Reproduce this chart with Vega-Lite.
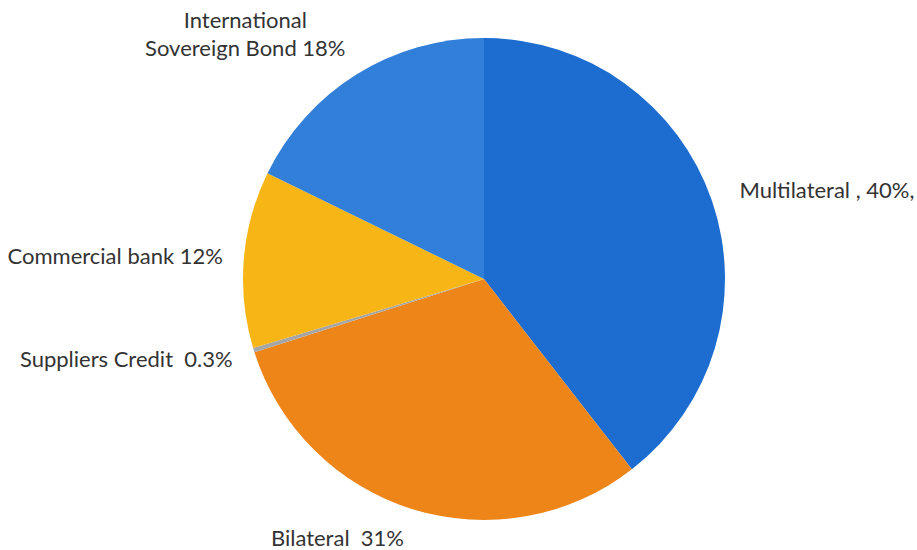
{
  "$schema": "https://vega.github.io/schema/vega-lite/v6.json",
  "autosize": {"type": "none"},
  "width": 866,
  "height": 542,
  "padding": {"left": 51, "top": 8, "right": 0, "bottom": 0},
  "background": "white",
  "view": {"stroke": null},
  "data": {
    "values": [
      {"idx": 1, "cat": "Multilateral", "value": 40, "label": "Multilateral , 40%,"},
      {"idx": 2, "cat": "Bilateral", "value": 31, "label": "Bilateral \u00a031%"},
      {"idx": 3, "cat": "Suppliers Credit", "value": 0.3, "label": "Suppliers Credit \u00a00.3%"},
      {"idx": 4, "cat": "Commercial bank", "value": 12, "label": "Commercial bank 12%"},
      {"idx": 5, "cat": "International Sovereign Bond", "value": 18, "label": "International\nSovereign Bond 18%"}
    ]
  },
  "encoding": {
    "theta": {"field": "value", "type": "quantitative", "stack": true},
    "order": {"field": "idx", "type": "quantitative"}
  },
  "layer": [
    {
      "mark": {"type": "arc", "outerRadius": 241, "stroke": null},
      "encoding": {
        "color": {
          "field": "cat",
          "type": "nominal",
          "legend": null,
          "scale": {
            "domain": ["Multilateral", "Bilateral", "Suppliers Credit", "Commercial bank", "International Sovereign Bond"],
            "range": ["#1d6dd0", "#ee8519", "#a6a6a6", "#f7b516", "#317fd8"]
          }
        }
      }
    },
    {
      "mark": {"type": "text", "radius": 270, "align": "left", "baseline": "middle", "font": "Lato", "fontSize": 22, "color": "#333333"},
      "encoding": {"text": {"field": "label", "type": "nominal", "condition": {"test": "datum.cat !== 'Multilateral'", "value": ""}}}
    },
    {
      "mark": {"type": "text", "radius": 270, "align": "right", "baseline": "middle", "dy": 2, "font": "Lato", "fontSize": 22, "color": "#333333"},
      "encoding": {"text": {"field": "label", "type": "nominal", "condition": {"test": "datum.cat !== 'Bilateral'", "value": ""}}}
    },
    {
      "mark": {"type": "text", "radius": 262, "align": "right", "baseline": "middle", "dx": -1, "dy": 4, "font": "Lato", "fontSize": 22, "color": "#333333"},
      "encoding": {"text": {"field": "label", "type": "nominal", "condition": {"test": "datum.cat !== 'Suppliers Credit'", "value": ""}}}
    },
    {
      "mark": {"type": "text", "radius": 262, "align": "right", "baseline": "middle", "font": "Lato", "fontSize": 22, "color": "#333333"},
      "encoding": {"text": {"field": "label", "type": "nominal", "condition": {"test": "datum.cat !== 'Commercial bank'", "value": ""}}}
    },
    {
      "mark": {"type": "text", "radius": 260, "align": "center", "baseline": "alphabetic", "dx": -101, "dy": -30, "lineBreak": "\n", "lineHeight": 28, "font": "Lato", "fontSize": 22, "color": "#333333"},
      "encoding": {"text": {"field": "label", "type": "nominal", "condition": {"test": "datum.cat !== 'International Sovereign Bond'", "value": ""}}}
    }
  ]
}
